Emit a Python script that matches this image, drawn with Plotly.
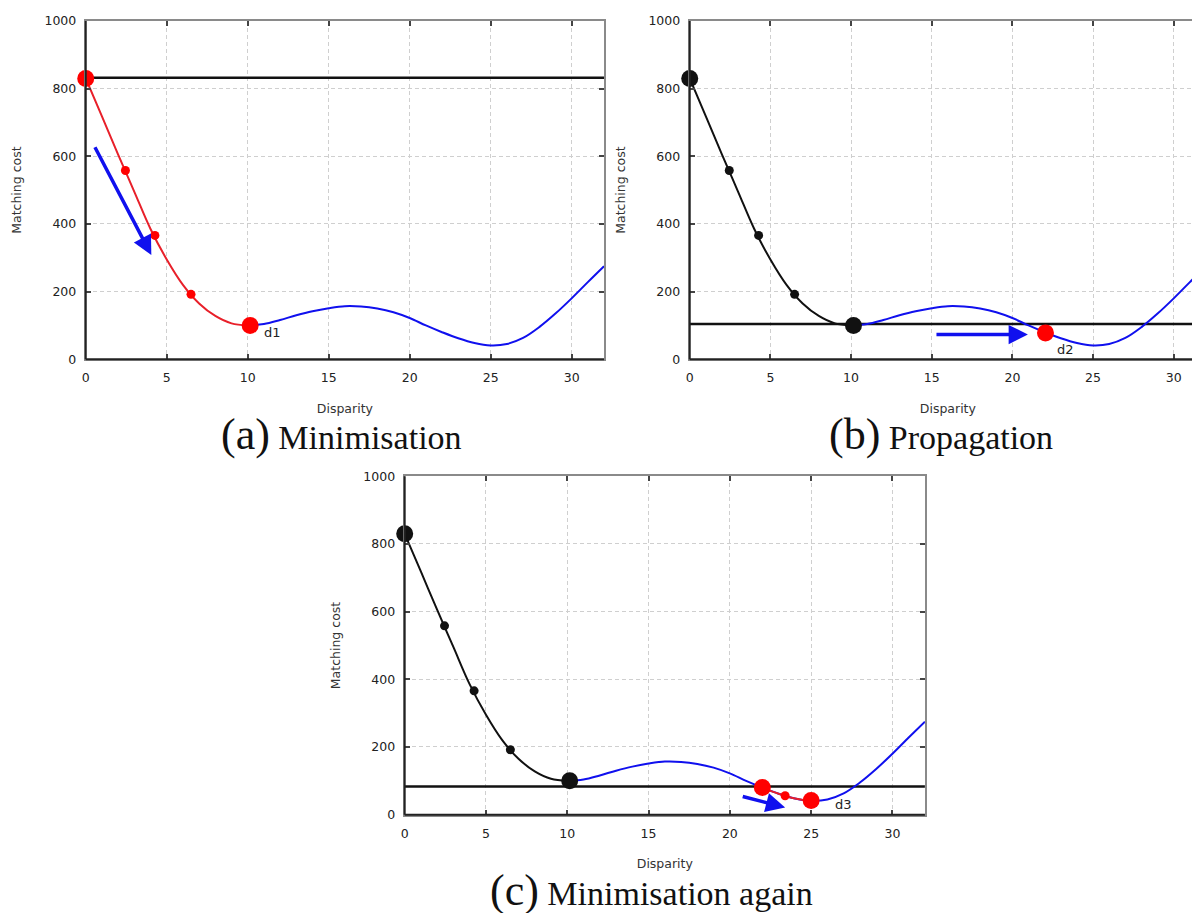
import plotly.graph_objects as go

# ---- data ----
curve_x = list(range(0, 33))
curve_y = [830, 718, 605, 495, 385, 295, 220, 165, 128, 106, 100, 104, 116, 130, 142,
           151, 157, 156, 150, 139, 122, 100, 80, 62, 48, 41, 45, 63, 95, 135, 180, 228, 275]

iter_a_x = [0, 2.45, 4.27, 6.5, 10.15]
iter_a_y = [830, 558, 366, 192, 100]
prop_b_x = [22.05]
prop_b_y = [78]
iter_c_x = [22.0, 23.4, 25.0]
iter_c_y = [80, 56, 42]
level_a = 832
level_b = 104
level_c = 83

x_ticks = [0, 5, 10, 15, 20, 25, 30]
y_ticks = [0, 200, 400, 600, 800, 1000]

W, H = 1200, 913
RED = "#ff0000"
RED_LINE = "#e8202a"
BLUE = "#1010ee"
BLACK = "#111111"

panels = {
    "a": dict(x0=74, x1=594, top=5, bot=349),
    "b": dict(x0=680, x1=1198, top=5, bot=349),
    "c": dict(x0=394, x1=916, top=468, bot=812),
}

fig = go.Figure()
layout = dict(width=W, height=H, margin=dict(l=0, r=0, t=0, b=0),
              paper_bgcolor="white", plot_bgcolor="white", showlegend=False)
shapes = []
annotations = []

axis_ids = {"a": ("x", "y"), "b": ("x2", "y2"), "c": ("x3", "y3")}
tick_font = dict(family="DejaVu Sans", size=12.5, color="#222")
title_font = dict(family="DejaVu Sans", size=12.5, color="#333")

for key, p in panels.items():
    xa, ya = axis_ids[key]
    xname = "xaxis" if xa == "x" else "xaxis" + xa[1:]
    yname = "yaxis" if ya == "y" else "yaxis" + ya[1:]
    common = dict(ticks="inside", ticklen=5, tickcolor="#444", tickwidth=1.5,
                  showline=True, linecolor="#8a8a8a", linewidth=2, mirror="ticks",
                  showgrid=True, gridcolor="#cfcfcf", griddash="4px,3px", gridwidth=1,
                  zeroline=False, tickfont=tick_font)
    layout[xname] = dict(
        domain=[p["x0"] / W, p["x1"] / W], anchor=ya, range=[0, 32],
        tickvals=x_ticks, ticklabelstandoff=6,
        title=dict(text="Disparity", font=title_font, standoff=20), **common)
    layout[yname] = dict(
        domain=[(H - p["bot"]) / H, (H - p["top"]) / H], anchor=xa, range=[0, 1000],
        tickvals=y_ticks, ticklabelstandoff=5,
        title=dict(text="Matching cost", font=title_font, standoff=20), **common)
    # black left and bottom frame
    shapes.append(dict(type="line", xref=f"{xa} domain", yref=f"{ya} domain",
                       x0=0, x1=1, y0=0, y1=0, line=dict(color="#222", width=2)))
    shapes.append(dict(type="line", xref=f"{xa} domain", yref=f"{ya} domain",
                       x0=0, x1=0, y0=0, y1=1, line=dict(color="#222", width=2)))


def line(x, y, color, xa, ya, width=2):
    fig.add_trace(go.Scatter(x=x, y=y, mode="lines", line=dict(color=color, width=width, shape="spline"),
                             xaxis=xa, yaxis=ya, hoverinfo="skip"))


def hline(level, xa, ya):
    fig.add_trace(go.Scatter(x=[0, 32], y=[level, level], mode="lines",
                             line=dict(color=BLACK, width=2.5), xaxis=xa, yaxis=ya, hoverinfo="skip"))


def dots(x, y, color, xa, ya):
    sizes = [17 if (i == 0 or i == len(x) - 1) else 9 for i in range(len(x))]
    fig.add_trace(go.Scatter(x=x, y=y, mode="markers",
                             marker=dict(color=color, size=sizes, opacity=1, line=dict(width=0)),
                             xaxis=xa, yaxis=ya, hoverinfo="skip", cliponaxis=False))


# panel (a)
hline(level_a, "x", "y")
line(curve_x[10:], curve_y[10:], BLUE, "x", "y")
line(curve_x[:11], curve_y[:11], RED_LINE, "x", "y")
dots(iter_a_x, iter_a_y, RED, "x", "y")

# panel (b)
hline(level_b, "x2", "y2")
line(curve_x[10:], curve_y[10:], BLUE, "x2", "y2")
line(curve_x[:11], curve_y[:11], BLACK, "x2", "y2")
dots(iter_a_x, iter_a_y, BLACK, "x2", "y2")
fig.add_trace(go.Scatter(x=prop_b_x, y=prop_b_y, mode="markers",
                         marker=dict(color=RED, size=17, opacity=1, line=dict(width=0)),
                         xaxis="x2", yaxis="y2", hoverinfo="skip"))

# panel (c)
hline(level_c, "x3", "y3")
line(curve_x[10:], curve_y[10:], BLUE, "x3", "y3")
line(curve_x[:11], curve_y[:11], BLACK, "x3", "y3")
line(curve_x[22:26], curve_y[22:26], RED_LINE, "x3", "y3")
dots(iter_a_x, iter_a_y, BLACK, "x3", "y3")
dots(iter_c_x, iter_c_y, RED, "x3", "y3")

# labels d1, d2, d3
for txt, x, y, xa, ya in [("d1", 11.5, 80, "x", "y"), ("d2", 23.3, 28, "x2", "y2"), ("d3", 27.0, 31, "x3", "y3")]:
    annotations.append(dict(text=txt, x=x, y=y, xref=xa, yref=ya, showarrow=False,
                            font=dict(family="DejaVu Sans", size=13, color="#222")))

# blue arrows
for (xs, ys, xe, ye, xa, ya) in [(0.52, 631, 4.05, 308, "x", "y"),
                                 (15.2, 73, 20.96, 73, "x2", "y2"),
                                 (20.7, 55, 23.4, 21, "x3", "y3")]:
    annotations.append(dict(x=xe, y=ye, ax=xs, ay=ys, xref=xa, yref=ya, axref=xa, ayref=ya,
                            showarrow=True, arrowhead=2, arrowsize=1.1, arrowwidth=3.5,
                            arrowcolor=BLUE, text=""))

# captions
cap_font = dict(family="Liberation Serif", size=34, color="#111")
captions = [("(a)", "Minimisation", 331, 425), ("(b)", "Propagation", 932, 425),
            ("(c)", "Minimisation again", 642, 889)]
for lab, word, cx, cy in captions:
    annotations.append(dict(text=f'<span style="font-size:44px">{lab}</span> {word}',
                            x=cx / W, y=(H - cy) / H, xref="paper", yref="paper",
                            xanchor="center", yanchor="middle", showarrow=False, font=cap_font))

layout["shapes"] = shapes
layout["annotations"] = annotations
fig.update_layout(**layout)
fig.write_html("out.html")
